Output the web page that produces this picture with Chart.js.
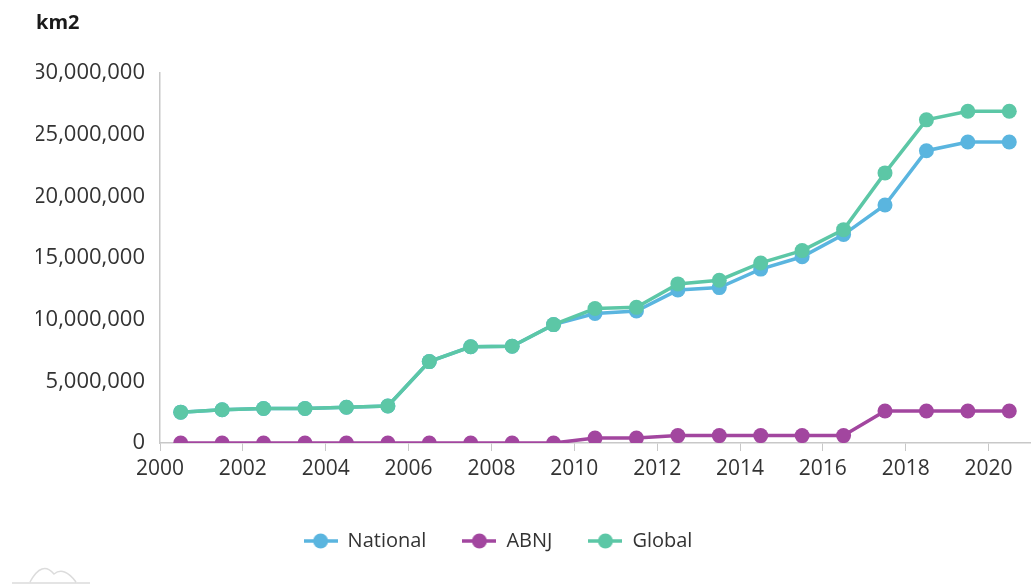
<!DOCTYPE html>
<html>
<head>
<meta charset="utf-8">
<script src="https://cdn.jsdelivr.net/npm/chart.js@4/dist/chart.umd.min.js"></script>
<style>
	html, body { margin: 0; padding: 0; background: #fff; }
	#wrap { width: 1033px; height: 584px; }
</style>
</head>
<body>
<div id="wrap"><canvas id="lineChart"></canvas></div>
<script>
const years = [2000, 2001, 2002, 2003, 2004, 2005, 2006, 2007, 2008, 2009, 2010,
	2011, 2012, 2013, 2014, 2015, 2016, 2017, 2018, 2019, 2020];
const national = [2500000, 2700000, 2800000, 2800000, 2900000, 3000000, 6600000, 7800000, 7850000, 9600000, 10500000,
	10700000, 12400000, 12600000, 14100000, 15100000, 16900000, 19300000, 23700000, 24400000, 24400000];
const abnj = [0, 0, 0, 0, 0, 0, 0, 0, 0, 0, 400000,
	400000, 600000, 600000, 600000, 600000, 600000, 2600000, 2600000, 2600000, 2600000];
const global = [2500000, 2700000, 2800000, 2800000, 2900000, 3000000, 6600000, 7800000, 7850000, 9600000, 10900000,
	11000000, 12900000, 13200000, 14600000, 15600000, 17300000, 21900000, 26200000, 26900000, 26900000];
const yearTicks = [2000, 2002, 2004, 2006, 2008, 2010, 2012, 2014, 2016, 2018, 2020];
const valueTicks = [0, 5000000, 10000000, 15000000, 20000000, 25000000, 30000000];

const colors = {
	national: '#5ab5df',
	abnj: '#a2469f',
	global: '#5cc7a6',
};

// each year's value sits in the middle of its year
const toPoints = values => values.map((v, i) => ({ x: years[i] + 0.5, y: v }));

// little line-with-dot swatch for the legend
const swatch = color => {
	const c = document.createElement('canvas');
	c.width = 34;
	c.height = 16;
	const g = c.getContext('2d');
	g.strokeStyle = color;
	g.lineWidth = 3.5;
	g.beginPath();
	g.moveTo(0, 8);
	g.lineTo(34, 8);
	g.stroke();
	g.fillStyle = color;
	g.beginPath();
	g.arc(17, 8, 7.5, 0, Math.PI * 2);
	g.fill();
	return c;
};

const series = [
	{ label: 'National', data: national, color: colors.national, order: 3 },
	{ label: 'ABNJ', data: abnj, color: colors.abnj, order: 2 },
	{ label: 'Global', data: global, color: colors.global, order: 1 },
];

// nudge the legend row a bit left of centre
const legendShift = {
	id: 'legendShift',
	afterLayout(chart) {
		const l = chart.legend;
		l.left -= 35;
		l.right -= 35;
	},
};

const logo = {
	id: 'logo',
	afterDraw(chart) {
		const g = chart.ctx;
		g.save();
		g.strokeStyle = '#dcdcdc';
		g.lineWidth = 1.5;
		g.beginPath();
		g.moveTo(12, 583);
		g.lineTo(90, 583);
		g.moveTo(30, 582);
		g.quadraticCurveTo(42, 560, 54, 574);
		g.quadraticCurveTo(64, 566, 76, 582);
		g.stroke();
		g.restore();
	},
};

const ctx = document.querySelector('#lineChart');

const myChart = new Chart(ctx, {
	type: 'line',
	data: {
		datasets: series.map(s => ({
			label: s.label,
			data: toPoints(s.data),
			order: s.order,
			borderColor: s.color,
			backgroundColor: s.color,
			pointBackgroundColor: s.color,
			pointBorderWidth: 0,
			pointRadius: 7.5,
			borderWidth: 3.5,
			tension: 0,
			fill: false,
		})),
	},
	options: {
		responsive: true,
		maintainAspectRatio: false,
		animation: false,
		layout: {
			autoPadding: false,
			padding: { left: 36, right: 3, top: 11, bottom: 23 },
		},
		plugins: {
			title: {
				display: true,
				text: 'km2',
				align: 'start',
				color: '#1a1a1a',
				font: { family: 'Open Sans', size: 20, weight: 'bold' },
				padding: { top: 0, bottom: 38 },
			},
			legend: {
				position: 'bottom',
				labels: {
					usePointStyle: true,
					pointStyleWidth: 34,
					color: '#333',
					font: { family: 'Open Sans', size: 20 },
					padding: 36,
					generateLabels: chart => chart.data.datasets.map((d, i) => ({
						text: d.label,
						datasetIndex: i,
						pointStyle: swatch(d.borderColor),
						fillStyle: d.borderColor,
						strokeStyle: d.borderColor,
						lineWidth: 0,
						fontColor: '#333',
						hidden: false,
					})),
				},
			},
			tooltip: { enabled: false },
		},
		scales: {
			x: {
				type: 'linear',
				min: 2000,
				max: 2021,
				afterBuildTicks: scale => {
					scale.ticks = yearTicks.map(v => ({ value: v }));
				},
				afterFit: scale => {
					scale.height = 52;
				},
				grid: {
					drawOnChartArea: false,
					drawTicks: true,
					tickLength: 8,
					color: '#c8c8c8',
				},
				border: { display: true, color: '#c8c8c8', width: 1.5 },
				ticks: {
					color: '#333',
					font: { family: 'Open Sans', size: 21 },
					padding: 5,
					maxRotation: 0,
					callback: v => String(v),
				},
			},
			y: {
				min: 0,
				max: 30000000,
				afterBuildTicks: scale => {
					scale.ticks = valueTicks.map(v => ({ value: v }));
				},
				afterFit: scale => {
					scale.width = 124;
				},
				grid: { display: false, drawTicks: false },
				border: { display: true, color: '#c8c8c8', width: 1.5 },
				ticks: {
					color: '#333',
					font: { family: 'Open Sans', size: 22 },
					padding: 15,
					callback: v => v.toLocaleString('en-US'),
				},
			},
		},
	},
	plugins: [legendShift, logo],
});
</script>
</body>
</html>
